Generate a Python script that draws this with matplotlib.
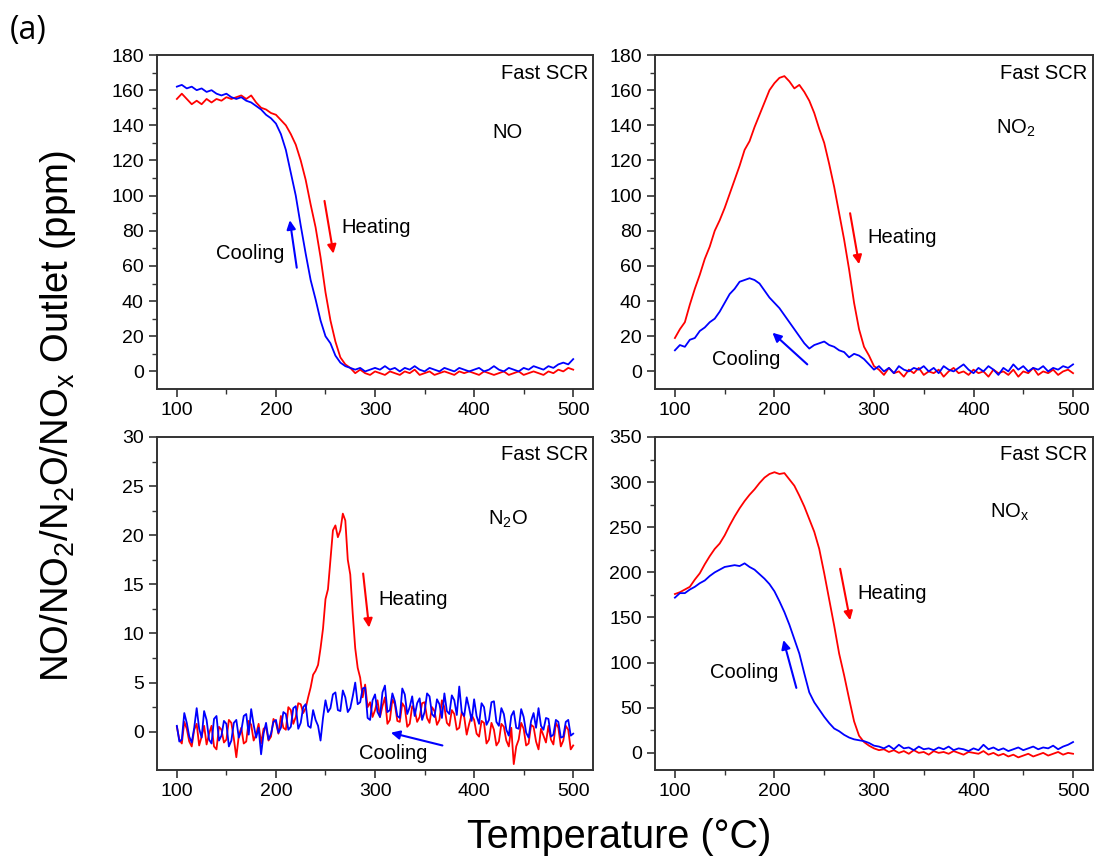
import numpy as np
import matplotlib
matplotlib.use("Agg")
import matplotlib.pyplot as plt

plt.rcParams['font.family'] = ['Liberation Sans', 'DejaVu Sans']
plt.rcParams['mathtext.default'] = 'regular'

# temperature grids (5 degC, and 2.5 degC for the noisy N2O trace)
temp = np.arange(100, 505, 5)
temp_fine = np.arange(100, 502.5, 2.5)

no_heat = [155, 158, 155, 152, 154, 152, 155, 153, 155, 154, 156, 155, 156, 157, 155, 157, 153, 150, 149, 147,
           146, 143, 140, 135, 129, 120, 109, 95, 82, 65, 45, 29, 17, 8, 4, 2, -1, 1, -1, -2, 0,
           -1, -2, 0, -1, -2, 0, -1, 1, -2, -1, 0, -2, -1, 0, -1, -2, 0, -1, 0, -1,
           -2, 0, -1, -2, -1, 0, -2, -1, 0, -2, -1, 0, -1, -2, 0, -1, 1, 0, 2, 1]
no_cool = [162, 163, 161, 162, 160, 161, 159, 160, 158, 157, 158, 156, 155, 156, 154, 153, 151, 149, 146, 144,
           141, 135, 126, 113, 100, 83, 67, 52, 41, 29, 20, 16, 9, 5, 3, 2, 1, 2, 0, 1, 2,
           1, 3, 1, 2, 0, 2, 1, 3, 1, 0, 2, 1, 0, 2, 1, 0, 2, 1, 0, 1,
           2, 0, 1, 3, 1, 0, 2, 1, 0, 2, 1, 3, 2, 1, 3, 2, 4, 5, 4, 7]

no2_heat = [19, 24, 28, 38, 47, 55, 64, 71, 80, 86, 93, 101, 109, 117, 126, 131, 139, 146, 153, 160,
            164, 167, 168, 165, 161, 163, 159, 154, 147, 138, 130, 118, 105, 90, 75, 58, 39, 24, 14, 9, 3,
            1, -2, 2, -1, 0, -3, 1, -1, 2, -2, 0, -1, 1, -3, 0, 2, -1, 0, -2, 1,
            -1, 0, -3, 1, -1, 0, -2, 1, -3, 0, -1, 2, -2, 0, -1, 1, -2, 0, 1, -1]
no2_cool = [12, 15, 14, 18, 19, 23, 25, 28, 30, 34, 39, 44, 47, 51, 52, 53, 52, 50, 46, 42,
            39, 36, 32, 28, 24, 20, 16, 13, 15, 16, 17, 15, 14, 12, 11, 8, 10, 9, 7, 4, 1,
            3, 0, 2, -1, 3, 1, 0, 2, 1, 3, 0, 2, -1, 3, 1, 0, 2, 4, 1, -1,
            2, 0, 3, 1, -2, 2, 0, 4, 1, 3, 0, 2, 1, 3, 0, 2, 1, 3, 2, 4]

n2o_heat = [0.5, -0.8, -1.2, 1.0, 0.3, -1.0, -1.5, 0.2, 0.8, -1.4, -0.5, 0.6, -1.3, -0.2, 0.6, -1.5,
            -1.8, 0.5, 0.2, -1.1, -0.8, 1.2, 0.9, -0.7, -2.6, -0.4, 0.4, -1.2, -1.0, 1.1, 0.7, -0.9,
            -0.3, 0.8, -1.2, 0.3, 0.5, -0.9, -0.5, 1.3, 0.9, -0.2, 1.6, 0.4, 0.2, 2.5, 2.2, 0.8,
            1.5, 2.9, 2.8, 1.9, 2.4, 3.5, 4.5, 5.8, 6.2, 6.8, 8.5, 10.5, 13.5, 14.5, 17.5, 20.5,
            21.0, 19.8, 20.5, 22.2, 21.5, 17.5, 16.0, 12.0, 8.5, 6.5, 5.5, 3.5, 4.8, 2.5, 3.0, 1.5,
            2.2, 3.2, 1.5, 2.6, 3.5, 0.8, 1.2, 3.3, 2.8, 1.1, 1.0, 2.9, 2.5, 0.5, 0.8, 2.6,
            2.2, 1.0, 1.5, 2.9, 3.0, 1.4, 0.9, 2.5, 2.1, 0.7, 1.2, 3.2, 2.5, 0.9, 0.6, 2.2,
            1.8, 0.2, 0.4, 2.0, 1.5, -0.3, 0.8, 1.7, 1.2, -0.2, -0.5, 1.1, 0.9, -1.2, -0.8, 0.9,
            0.2, -1.4, -1.0, 0.8, 0.5, -0.9, -1.5, 0.4, -3.3, -1.5, -0.8, 0.9, 0.3, -1.4, -1.2, 0.7,
            0.5, -1.0, -1.8, 0.3, -0.4, -1.1, 0.6, -0.8, -1.3, 0.9, 0.4, -1.5, -0.9, 0.6, 0.2, -1.8,
            -1.4]
n2o_cool = [0.6, -1.0, -0.8, 1.9, 0.9, -0.5, -1.1, 0.4, 2.4, 0.3, -0.6, 2.1, 1.2, -0.8, -1.2, 1.3,
            1.6, -0.9, -0.4, 1.1, 0.8, -1.5, -0.9, 0.9, 1.2, -0.6, 0.1, 1.6, 1.8, -0.3, 2.3, 0.7,
            -0.6, 0.4, -2.3, -0.2, 0.9, -0.8, -0.2, 1.0, 1.2, -0.1, 0.4, 2.0, 1.8, 0.2, 0.5, 2.4,
            2.6, 0.3, 0.9, 2.5, 2.8, 0.6, 0.4, 2.2, 1.2, 0.6, -0.9, 1.4, 3.2, 2.0, 2.4, 3.8,
            4.0, 2.2, 2.1, 4.2, 3.5, 2.0, 2.4, 3.6, 5.0, 2.8, 3.0, 4.4, 4.5, 1.4, 1.2, 3.2,
            3.8, 2.0, 1.5, 4.0, 4.7, 2.0, 2.2, 3.9, 3.1, 1.6, 1.4, 4.4, 3.8, 1.8, 2.5, 3.6,
            1.6, 2.9, 3.4, 1.2, 2.0, 3.9, 3.6, 1.8, 1.5, 3.3, 2.8, 1.4, 3.9, 2.1, 1.8, 3.7,
            3.2, 1.7, 4.6, 2.0, 1.6, 3.5, 2.4, 1.1, 3.3, 1.6, 0.8, 2.9, 2.5, 0.7, 1.2, 3.0,
            3.1, 1.0, 0.6, 2.4, 1.8, 0.2, -0.4, 1.6, 2.1, 0.4, 0.3, 2.3, 1.5, -0.1, -0.6, 1.1,
            1.9, 0.4, 2.4, 0.6, 0.2, 1.4, 1.3, -0.5, -0.3, 1.2, 1.0, -0.6, -0.5, 1.0, 1.2, -0.4,
            -0.2]

nox_heat = [176, 178, 181, 184, 192, 199, 209, 218, 226, 232, 241, 252, 262, 271, 279, 286, 292, 299, 305, 309,
            311, 309, 310, 303, 296, 285, 273, 259, 245, 226, 199, 170, 141, 110, 86, 60, 35, 19, 12, 8, 5,
            3, 4, 1, 3, 0, 2, -1, 3, 0, 1, -2, 2, 0, 1, -1, 2, 0, -2, 1, 0,
            -1, 2, -2, 0, -3, -1, -4, -2, -5, -3, -1, -4, -2, 0, -3, -1, 1, -2, 0, -1]
nox_cool = [172, 177, 177, 181, 184, 188, 191, 196, 200, 203, 206, 207, 208, 207, 210, 206, 203, 198, 193, 187,
            179, 168, 156, 142, 126, 110, 88, 67, 56, 48, 40, 33, 27, 24, 20, 17, 15, 14, 13, 11, 8,
            7, 5, 8, 4, 9, 5, 6, 3, 7, 4, 5, 3, 6, 4, 7, 3, 5, 4, 2, 5,
            3, 9, 4, 6, 3, 5, 2, 4, 6, 3, 5, 7, 4, 6, 5, 8, 4, 7, 9, 12]

fig = plt.figure(figsize=(10.99, 8.65), dpi=100)

# [left, bottom, width, height] in figure fractions
boxes = [[0.1429, 0.5503, 0.3967, 0.3861],
         [0.5960, 0.5503, 0.3985, 0.3861],
         [0.1429, 0.1098, 0.3967, 0.3850],
         [0.5960, 0.1098, 0.3985, 0.3850]]

panels = [
    dict(t=temp, heat=no_heat, cool=no_cool, ylim=(-10, 180), step=20, label='NO', lab_xy=(418, 136),
         h_arrow=((249, 97), (258, 67)), h_txt=(266, 82), c_arrow=((221, 59), (214, 86)),
         c_txt=(209, 67), c_ha='right'),
    dict(t=temp, heat=no2_heat, cool=no2_cool, ylim=(-10, 180), step=20, label='NO$_2$', lab_xy=(423, 138),
         h_arrow=((276, 90), (285, 61)), h_txt=(293, 76), c_arrow=((233, 4), (198, 22)),
         c_txt=(206, 6.6), c_ha='right'),
    dict(t=temp_fine, heat=n2o_heat, cool=n2o_cool, ylim=(-3.9, 30), step=5, label='N$_2$O', lab_xy=(414, 21.6),
         h_arrow=((288, 16.1), (294, 10.6)), h_txt=(303, 13.5), c_arrow=((368, -1.4), (316, -0.1)),
         c_txt=(284, -2.2), c_ha='left'),
    dict(t=temp, heat=nox_heat, cool=nox_cool, ylim=(-19, 350), step=50, label='NO$_x$', lab_xy=(417, 266),
         h_arrow=((266, 204), (276, 147)), h_txt=(283, 177), c_arrow=((222, 72), (209, 125)),
         c_txt=(204, 89), c_ha='right'),
]

for box, p in zip(boxes, panels):
    ax = fig.add_axes(box)
    ax.plot(p['t'], p['heat'], color='#ff0000', lw=1.3, zorder=3)
    ax.plot(p['t'], p['cool'], color='#0000ff', lw=1.3, zorder=4)
    ax.set_xlim(80, 520)
    ax.set_ylim(*p['ylim'])
    ax.set_xticks([100, 200, 300, 400, 500])
    ax.set_xticks([150, 250, 350, 450], minor=True)
    top = p['ylim'][1]
    ax.set_yticks(np.arange(0, top + 0.1, p['step']))
    ax.set_yticks(np.arange(p['step'] / 2, top, p['step']), minor=True)
    ax.tick_params(which='major', direction='out', length=6, width=1.2, labelsize=14, color='#333333')
    ax.tick_params(which='minor', direction='out', length=3.5, width=1.0, color='#333333')
    for s in ax.spines.values():
        s.set_linewidth(1.4)
        s.set_color('#333333')
    ax.text(0.988, 0.946, 'Fast SCR', transform=ax.transAxes, ha='right', va='center', fontsize=14.5)
    ax.text(p['lab_xy'][0], p['lab_xy'][1], p['label'], ha='left', va='center', fontsize=14.5)
    (ht, hh) = p['h_arrow']
    ax.annotate('', xy=hh, xytext=ht,
                arrowprops=dict(arrowstyle='-|>', color='#ff0000', lw=1.5, mutation_scale=13,
                                shrinkA=0, shrinkB=0))
    ax.text(p['h_txt'][0], p['h_txt'][1], 'Heating', ha='left', va='center', fontsize=14.5)
    (ct, ch) = p['c_arrow']
    ax.annotate('', xy=ch, xytext=ct,
                arrowprops=dict(arrowstyle='-|>', color='#0000ff', lw=1.5, mutation_scale=13,
                                shrinkA=0, shrinkB=0))
    ax.text(p['c_txt'][0], p['c_txt'][1], 'Cooling', ha=p['c_ha'], va='center', fontsize=14.5)

fig.text(0.053, 0.519, 'NO/NO$_2$/N$_2$O/NO$_x$ Outlet (ppm)', rotation=90, ha='center', va='center',
         fontsize=27.5)
fig.text(0.563, 0.032, 'Temperature (\u00b0C)', ha='center', va='center', fontsize=28.5)
fig.text(0.009, 0.965, '(a)', ha='left', va='center', fontsize=23, family=['Open Sans', 'DejaVu Sans'])

fig.savefig('out.png', dpi=100)
